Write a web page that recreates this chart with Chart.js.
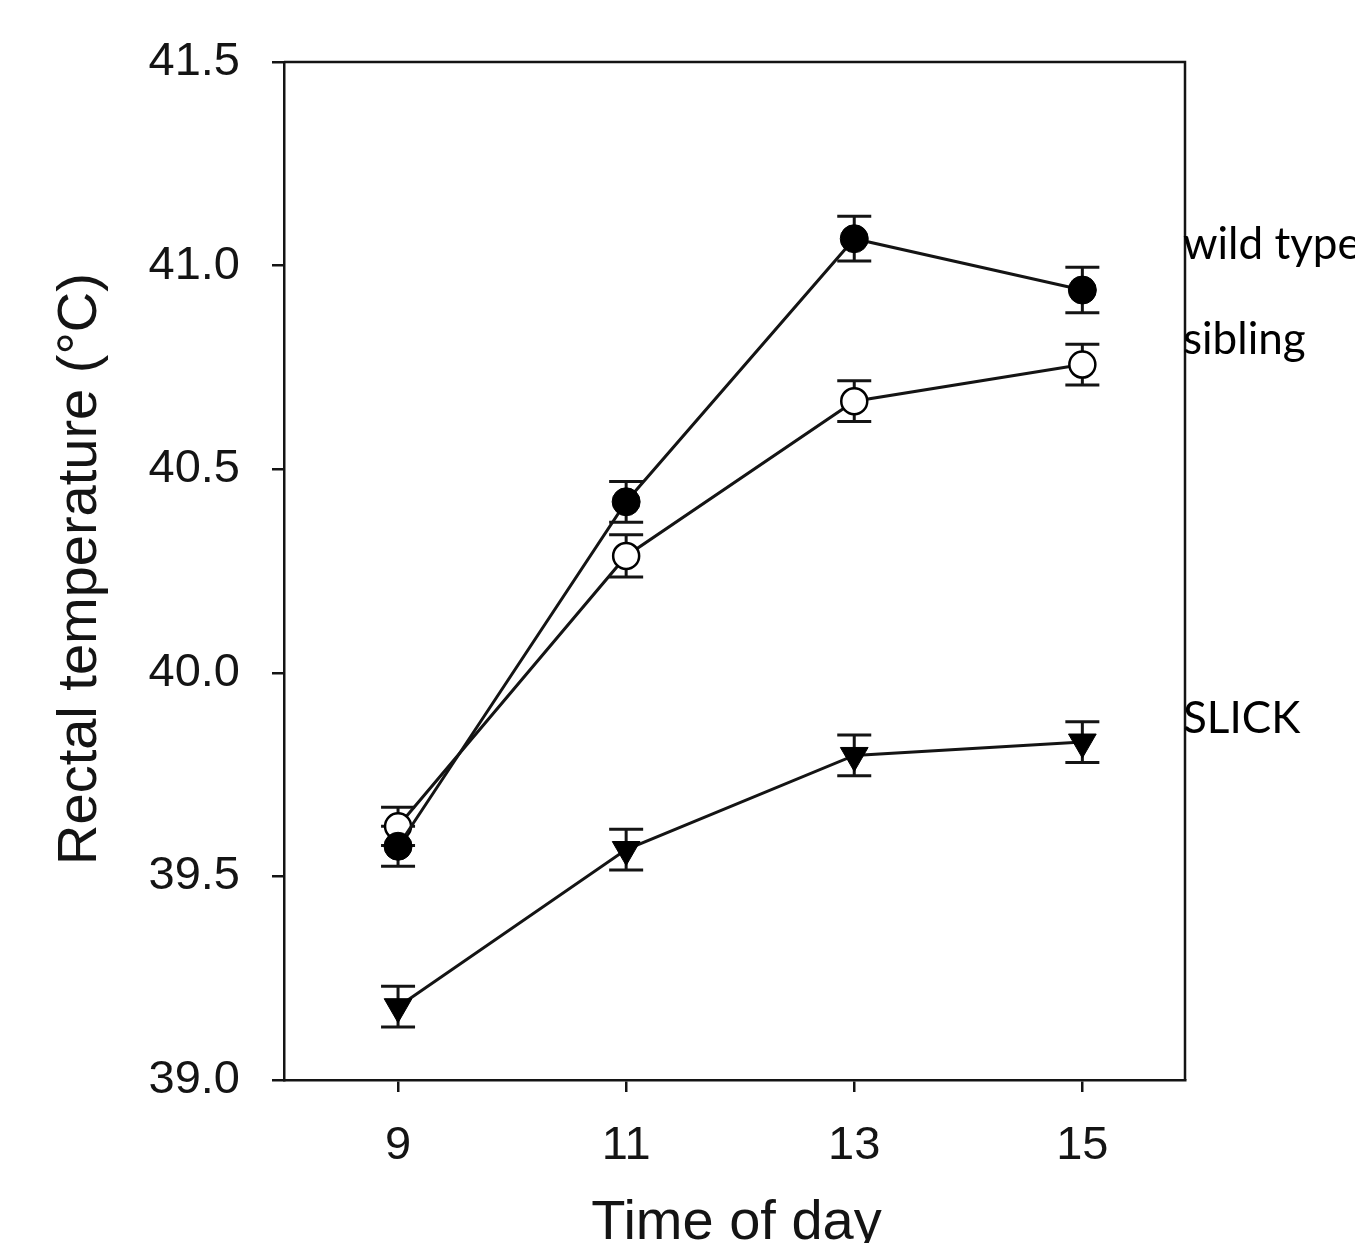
<!DOCTYPE html>
<html>
<head>
<meta charset="utf-8">
<script src="https://cdn.jsdelivr.net/npm/chart.js@4"></script>
<style>
  body { margin: 0; background: #fff; }
  canvas { display: block; }
</style>
</head>
<body>
<canvas id="chart1" width="1355" height="1243"></canvas>
<script>
"use strict";

// data
var hours = [9, 11, 13, 15];
var wildType = [39.574, 40.42, 41.066, 40.94];
var wildTypeErr = [0.049, 0.05, 0.055, 0.056];
var sibling = [39.623, 40.287, 40.667, 40.757];
var siblingErr = [0.047, 0.052, 0.05, 0.05];
var slick = [39.18, 39.566, 39.797, 39.83];
var slickErr = [0.05, 0.05, 0.05, 0.05];
var seriesNames = ["wild type", "sibling", "SLICK"];
var yTicks = [39.0, 39.5, 40.0, 40.5, 41.0, 41.5];

var ink = "#141414";

function toPoints(vals) {
  return hours.map(function (h, i) { return { x: h, y: vals[i] }; });
}

// error bars, drawn under the markers
var errorBars = {
  id: "errorBars",
  beforeDatasetsDraw: function (chart) {
    var ctx = chart.ctx;
    var xs = chart.scales.x, ys = chart.scales.y;
    var sets = [[wildType, wildTypeErr], [sibling, siblingErr], [slick, slickErr]];
    ctx.save();
    ctx.strokeStyle = ink;
    ctx.lineWidth = 3;
    sets.forEach(function (s) {
      s[0].forEach(function (v, i) {
        var px = xs.getPixelForValue(hours[i]);
        var top = ys.getPixelForValue(v + s[1][i]);
        var bot = ys.getPixelForValue(v - s[1][i]);
        ctx.beginPath();
        ctx.moveTo(px, top); ctx.lineTo(px, bot);
        ctx.moveTo(px - 17, top); ctx.lineTo(px + 17, top);
        ctx.moveTo(px - 17, bot); ctx.lineTo(px + 17, bot);
        ctx.stroke();
      });
    });
    ctx.restore();
  }
};

// frame, axis titles and the series labels on the right
var decorations = {
  id: "decorations",
  afterDraw: function (chart) {
    var ctx = chart.ctx;
    var a = chart.chartArea;
    ctx.save();
    ctx.strokeStyle = ink;
    ctx.lineWidth = 2.5;
    ctx.beginPath();
    ctx.moveTo(a.left, a.top); ctx.lineTo(a.right, a.top); ctx.lineTo(a.right, a.bottom);
    ctx.stroke();

    ctx.fillStyle = ink;
    ctx.font = "56px 'Liberation Sans', Arial, sans-serif";
    ctx.textAlign = "center";
    ctx.textBaseline = "alphabetic";
    ctx.fillText("Time of day", (a.left + a.right) / 2 + 2, 1239);

    ctx.translate(96, (a.top + a.bottom) / 2 - 2);
    ctx.rotate(-Math.PI / 2);
    ctx.fillText("Rectal temperature (\u00B0C)", 0, 0);
    ctx.restore();

    ctx.save();
    ctx.fillStyle = "#000";
    ctx.font = "44px Lato, 'Open Sans', sans-serif";
    ctx.textAlign = "left";
    ctx.textBaseline = "alphabetic";
    ctx.fillText(seriesNames[0], 1183, 259);
    ctx.fillText(seriesNames[1], 1183, 354);
    ctx.fillText(seriesNames[2], 1183, 733);
    ctx.restore();
  }
};

var ctx = document.getElementById("chart1").getContext("2d");

var myChart = new Chart(ctx, {
  type: "line",
  data: {
    datasets: [
      {
        label: seriesNames[0],
        data: toPoints(wildType),
        borderColor: ink,
        borderWidth: 3,
        pointStyle: "circle",
        pointRadius: 14,
        pointBackgroundColor: "#000",
        pointBorderColor: "#000",
        pointBorderWidth: 1,
        fill: false,
      },
      {
        label: seriesNames[1],
        data: toPoints(sibling),
        borderColor: ink,
        borderWidth: 3,
        pointStyle: "circle",
        pointRadius: 13,
        pointBackgroundColor: "#fff",
        pointBorderColor: "#000",
        pointBorderWidth: 2.5,
        fill: false,
      },
      {
        label: seriesNames[2],
        data: toPoints(slick),
        borderColor: ink,
        borderWidth: 3,
        pointStyle: "triangle",
        rotation: 180,
        pointRadius: 16,
        pointBackgroundColor: "#000",
        pointBorderColor: "#000",
        pointBorderWidth: 1,
        fill: false,
      },
    ],
  },
  options: {
    responsive: false,
    animation: false,
    layout: { padding: { top: 62, right: 170, left: 0, bottom: 0 } },
    plugins: {
      legend: { display: false },
      tooltip: { enabled: false },
    },
    scales: {
      x: {
        type: "linear",
        min: 8,
        max: 15.9,
        afterBuildTicks: function (scale) {
          scale.ticks = hours.map(function (h) { return { value: h }; });
        },
        afterFit: function (scale) { scale.height = 163; },
        border: { display: true, color: ink, width: 2.5 },
        grid: { drawOnChartArea: false, drawTicks: true, tickLength: 12, color: ink, lineWidth: 2.5 },
        ticks: {
          color: ink,
          padding: 26,
          maxRotation: 0,
          font: { family: "'Liberation Sans', Arial, sans-serif", size: 47 },
        },
      },
      y: {
        min: 39,
        max: 41.5,
        afterBuildTicks: function (scale) {
          scale.ticks = yTicks.map(function (v) { return { value: v }; });
        },
        afterFit: function (scale) { scale.width = 284; },
        border: { display: true, color: ink, width: 2.5 },
        grid: { drawOnChartArea: false, drawTicks: true, tickLength: 12, color: ink, lineWidth: 2.5 },
        ticks: {
          color: ink,
          padding: 32,
          font: { family: "'Liberation Sans', Arial, sans-serif", size: 47 },
          callback: function (v) { return Number(v).toFixed(1); },
        },
      },
    },
  },
  plugins: [errorBars, decorations],
});
</script>
</body>
</html>
